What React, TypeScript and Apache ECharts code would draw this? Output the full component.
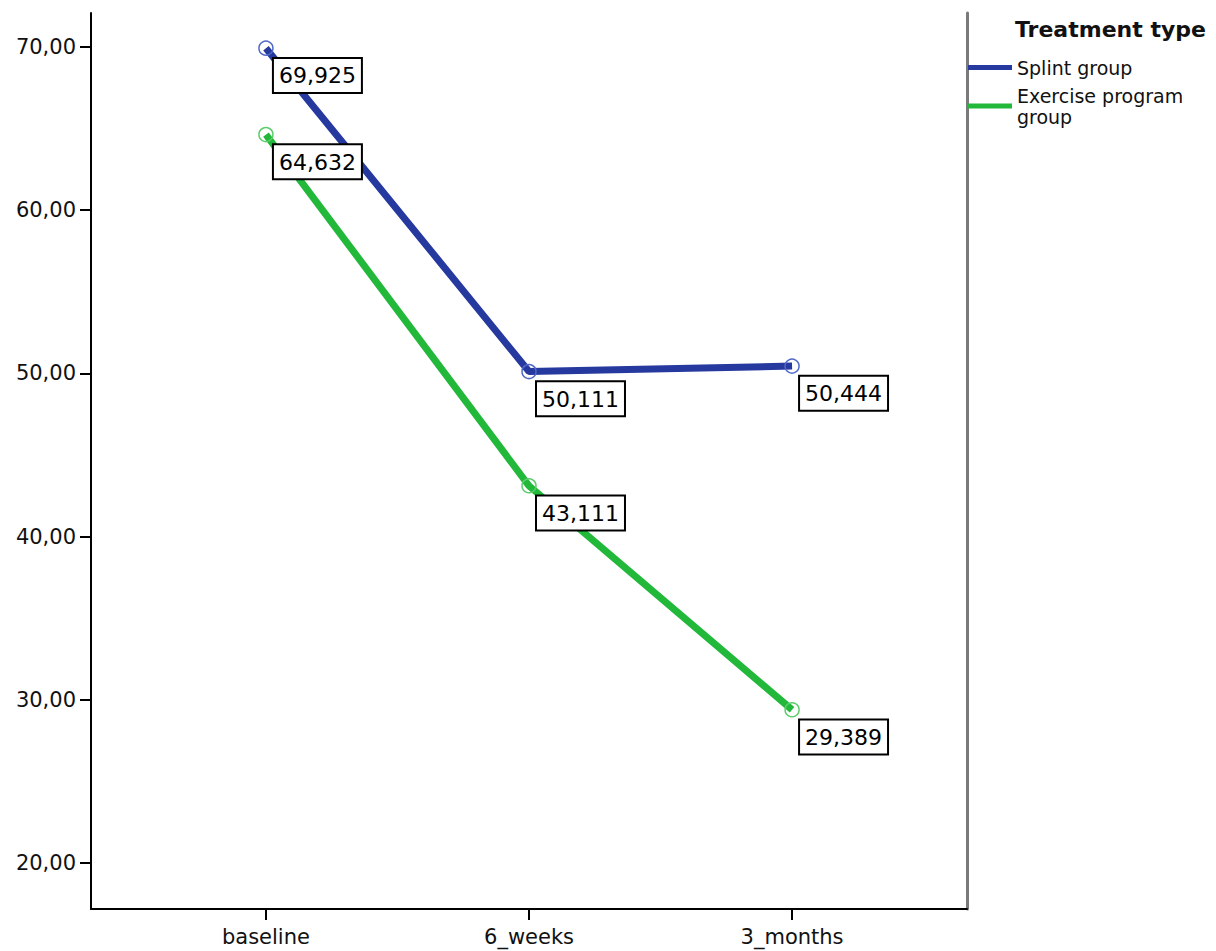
import React, { useEffect, useRef } from "react";
import * as echarts from "echarts";

const categories = ["baseline", "6_weeks", "3_months"];
const splintValues = [69.925, 50.111, 50.444];
const exerciseValues = [64.632, 43.111, 29.389];
const yTickValues = [20, 30, 40, 50, 60, 70];
const seriesNames = ["Splint group", "Exercise program group"];
const legendTitle = "Treatment type";

const BLUE = "#26399f";
const BLUE_MARK = "#5068c8";
const GREEN = "#22b83a";
const GREEN_MARK = "#5ccc6c";
const FONT = "DejaVu Sans";

export default function App() {
  const ref = useRef<HTMLDivElement>(null);
  useEffect(() => {
    if (!ref.current) return;
    const chart = echarts.init(ref.current, undefined, { renderer: "svg" });
    const toPoints = (vals: number[]) => vals.map((v, i) => [i, v]);
    const label = {
      show: true,
      position: "bottom",
      align: "left",
      verticalAlign: "top",
      distance: 3,
      offset: [8, 0],
      formatter: (p: any) => p.value[1].toFixed(3).replace(".", ","),
      color: "#000",
      fontFamily: FONT,
      fontSize: 22,
      lineHeight: 28,
      backgroundColor: "#fff",
      borderColor: "#000",
      borderWidth: 2,
      padding: [3, 5, 2, 5],
    };
    chart.setOption({
      animation: false,
      backgroundColor: "#fff",
      title: {
        text: legendTitle,
        left: 1015,
        top: 18,
        padding: 0,
        textStyle: { fontFamily: FONT, fontSize: 22, fontWeight: "bold", color: "#111" },
      },
      legend: {
        orient: "vertical",
        left: 968,
        top: 57,
        padding: 0,
        itemWidth: 44,
        itemHeight: 5,
        itemGap: 7,
        icon: "rect",
        data: [
          { name: seriesNames[0], itemStyle: { color: BLUE, borderWidth: 0 } },
          { name: seriesNames[1], itemStyle: { color: GREEN, borderWidth: 0 } },
        ],
        formatter: (n: string) => (n === seriesNames[1] ? "Exercise program\ngroup" : n),
        textStyle: { fontFamily: FONT, fontSize: 19, lineHeight: 21, color: "#111" },
      },
      grid: { left: 91, right: 249, top: 13, bottom: 42 },
      xAxis: {
        type: "value",
        min: -0.665,
        max: 2.665,
        splitLine: { show: false },
        axisLine: { onZero: false, lineStyle: { color: "#000", width: 2 } },
        axisTick: { customValues: [0, 1, 2], length: 11, lineStyle: { color: "#000", width: 2 } },
        axisLabel: {
          customValues: [0, 1, 2],
          formatter: (v: number) => categories[Math.round(v)],
          margin: 17,
          color: "#111",
          fontFamily: FONT,
          fontSize: 21,
        },
      },
      yAxis: [
        {
          type: "value",
          min: 17.18,
          max: 72.08,
          splitLine: { show: false },
          axisLine: { show: true, onZero: false, lineStyle: { color: "#000", width: 2 } },
          axisTick: { show: true, customValues: yTickValues, length: 11, lineStyle: { color: "#000", width: 2 } },
          axisLabel: {
            customValues: yTickValues,
            formatter: (v: number) => v.toFixed(2).replace(".", ","),
            margin: 15,
            color: "#111",
            fontFamily: FONT,
            fontSize: 21,
          },
        },
        {
          type: "value",
          position: "right",
          min: 17.18,
          max: 72.08,
          splitLine: { show: false },
          axisLine: { show: true, onZero: false, lineStyle: { color: "#7a7a7a", width: 3 } },
          axisTick: { show: false },
          axisLabel: { show: false },
        },
      ],
      series: [
        {
          name: seriesNames[0],
          type: "line",
          data: toPoints(splintValues),
          symbol: "circle",
          symbolSize: 14,
          lineStyle: { color: BLUE, width: 7 },
          itemStyle: { color: "rgba(0,0,0,0)", borderColor: BLUE_MARK, borderWidth: 1.5 },
          label,
        },
        {
          name: seriesNames[1],
          type: "line",
          data: toPoints(exerciseValues),
          symbol: "circle",
          symbolSize: 14,
          lineStyle: { color: GREEN, width: 7 },
          itemStyle: { color: "rgba(0,0,0,0)", borderColor: GREEN_MARK, borderWidth: 1.5 },
          label,
        },
      ],
    });
    return () => chart.dispose();
  }, []);
  return (
    <div
      ref={ref}
      style={{ position: "absolute", left: 0, top: 0, width: 1216, height: 951 }}
    />
  );
}
